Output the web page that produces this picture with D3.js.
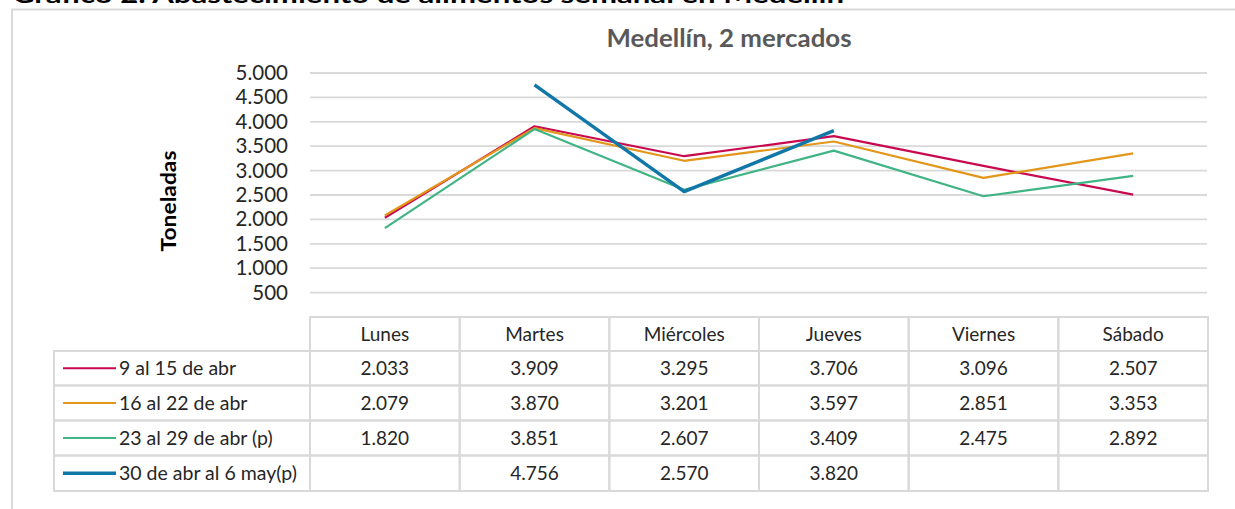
<!DOCTYPE html>
<html>
<head>
<meta charset="utf-8">
<script src="https://cdn.jsdelivr.net/npm/d3@7"></script>
<style>
  html, body { margin: 0; padding: 0; background: #fff; }
  svg { display: block; }
</style>
</head>
<body>
<script>
// datos
var dias = ["Lunes", "Martes", "Miércoles", "Jueves", "Viernes", "Sábado"]
var semanas = ["9 al 15 de abr", "16 al 22 de abr", "23 al 29 de abr (p)", "30 de abr al 6 may(p)"]
var sem1 = [2033, 3909, 3295, 3706, 3096, 2507]
var sem2 = [2079, 3870, 3201, 3597, 2851, 3353]
var sem3 = [1820, 3851, 2607, 3409, 2475, 2892]
var sem4 = [null, 4756, 2570, 3820, null, null]
var ticksY = [500, 1000, 1500, 2000, 2500, 3000, 3500, 4000, 4500, 5000]

var colores = ["#c8094f", "#e2961a", "#40b485", "#1177a8"]
var grosor = [2.2, 2.2, 2.2, 3.4]

var series = [sem1, sem2, sem3, sem4].map(function (v, i) {
    return { nombre: semanas[i], valores: v, color: colores[i], ancho: grosor[i] }
})

var width = 1235
var height = 509
var fuente = "Lato, 'Open Sans', sans-serif"
var gris = "#d9d9d9"

var locale = d3.formatLocale({ decimal: ",", thousands: ".", grouping: [3], currency: ["$", ""] })
var fmt = locale.format(",d")

var svg = d3.select("body").append("svg")
    .attr("width", width)
    .attr("height", height)

// titulo del documento (cortado arriba, como en el original)
svg.append("text")
    .attr("x", 12)
    .attr("y", 3)
    .attr("textLength", 832)
    .attr("lengthAdjust", "spacingAndGlyphs")
    .attr("font-family", fuente)
    .attr("font-weight", "bold")
    .attr("font-size", 23)
    .attr("fill", "#000")
    .text("Gráfico 2. Abastecimiento de alimentos semanal en Medellín")

// marco del grafico
svg.append("rect")
    .attr("x", 12)
    .attr("y", 9.5)
    .attr("width", 1400)
    .attr("height", 600)
    .attr("fill", "#fff")
    .attr("stroke", gris)
    .attr("stroke-width", 2)

var x = d3.scaleBand()
    .domain(dias)
    .range([310, 1208])

var y = d3.scaleLinear()
    .domain([0, 5000])
    .range([317, 73])

// lineas de cuadricula
svg.append("g")
    .selectAll("line")
    .data(ticksY)
    .join("line")
    .attr("x1", 310)
    .attr("x2", 1207)
    .attr("y1", function (d) { return y(d) })
    .attr("y2", function (d) { return y(d) })
    .attr("stroke", gris)
    .attr("stroke-width", 1.8)

// eje y
var ejeY = d3.axisLeft(y)
    .tickValues(ticksY)
    .tickFormat(fmt)
    .tickSize(0)
    .tickPadding(0)

var gY = svg.append("g")
    .attr("transform", "translate(288,0)")
    .call(ejeY)
gY.select(".domain").remove()
gY.selectAll("text")
    .attr("font-family", fuente)
    .attr("font-size", 20.5)
    .attr("fill", "#262626")

svg.append("text")
    .attr("transform", "translate(176,201) rotate(-90)")
    .attr("text-anchor", "middle")
    .attr("textLength", 101)
    .attr("lengthAdjust", "spacingAndGlyphs")
    .attr("font-family", fuente)
    .attr("font-weight", "bold")
    .attr("font-size", 20)
    .attr("fill", "#000")
    .text("Toneladas")

svg.append("text")
    .attr("x", 729)
    .attr("y", 47)
    .attr("text-anchor", "middle")
    .attr("textLength", 245)
    .attr("lengthAdjust", "spacingAndGlyphs")
    .attr("font-family", fuente)
    .attr("font-weight", "bold")
    .attr("font-size", 24)
    .attr("fill", "#595959")
    .text("Medellín, 2 mercados")

// lineas de las series
var linea = d3.line()
    .defined(function (d) { return d.v != null })
    .x(function (d) { return x(d.dia) + x.bandwidth() / 2 })
    .y(function (d) { return y(d.v) })

svg.append("g")
    .selectAll("path")
    .data(series)
    .join("path")
    .attr("d", function (s) {
        return linea(s.valores.map(function (v, i) { return { dia: dias[i], v: v } }))
    })
    .attr("fill", "none")
    .attr("stroke", function (s) { return s.color })
    .attr("stroke-width", function (s) { return s.ancho })
    .attr("stroke-linejoin", "round")

// tabla de datos
var filaY = [317, 351, 385.5, 420.5, 455.5, 491]
var tamTabla = 19
var tabla = svg.append("g")

// encabezado
tabla.selectAll("rect.head")
    .data(dias)
    .join("rect")
    .attr("class", "head")
    .attr("x", function (d) { return x(d) })
    .attr("y", filaY[0])
    .attr("width", x.bandwidth())
    .attr("height", filaY[1] - filaY[0])
    .attr("fill", "none")
    .attr("stroke", gris)
    .attr("stroke-width", 2)

tabla.selectAll("text.head")
    .data(dias)
    .join("text")
    .attr("class", "head")
    .attr("x", function (d) { return x(d) + x.bandwidth() / 2 })
    .attr("y", (filaY[0] + filaY[1]) / 2)
    .attr("dy", "0.35em")
    .attr("text-anchor", "middle")
    .attr("font-family", fuente)
    .attr("font-size", tamTabla)
    .attr("fill", "#262626")
    .text(function (d) { return d })

series.forEach(function (s, i) {
    var y0 = filaY[i + 1]
    var y1 = filaY[i + 2]
    var fila = tabla.append("g")

    fila.append("rect")
        .attr("x", 54)
        .attr("y", y0)
        .attr("width", 310 - 54)
        .attr("height", y1 - y0)
        .attr("fill", "none")
        .attr("stroke", gris)
        .attr("stroke-width", 2)

    fila.append("line")
        .attr("x1", 63)
        .attr("x2", 116)
        .attr("y1", (y0 + y1) / 2)
        .attr("y2", (y0 + y1) / 2)
        .attr("stroke", s.color)
        .attr("stroke-width", s.ancho)

    fila.append("text")
        .attr("x", 119)
        .attr("y", (y0 + y1) / 2)
        .attr("dy", "0.35em")
        .attr("font-family", fuente)
        .attr("font-size", tamTabla + 0.5)
        .attr("fill", "#262626")
        .text(s.nombre)

    fila.selectAll("rect.celda")
        .data(dias)
        .join("rect")
        .attr("class", "celda")
        .attr("x", function (d) { return x(d) })
        .attr("y", y0)
        .attr("width", x.bandwidth())
        .attr("height", y1 - y0)
        .attr("fill", "none")
        .attr("stroke", gris)
        .attr("stroke-width", 2)

    fila.selectAll("text.valor")
        .data(s.valores)
        .join("text")
        .attr("class", "valor")
        .attr("x", function (d, j) { return x(dias[j]) + x.bandwidth() / 2 })
        .attr("y", (y0 + y1) / 2)
        .attr("dy", "0.35em")
        .attr("text-anchor", "middle")
        .attr("font-family", fuente)
        .attr("font-size", tamTabla)
        .attr("fill", "#262626")
        .text(function (d) { return d == null ? "" : fmt(d) })
})
</script>
</body>
</html>
